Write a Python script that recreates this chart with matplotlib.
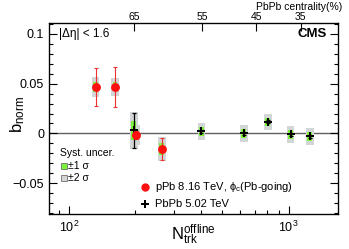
import matplotlib
matplotlib.use("Agg")
import matplotlib.pyplot as plt
import numpy as np

plt.rcParams['font.family'] = ['Liberation Sans', 'DejaVu Sans']
plt.rcParams['mathtext.fontset'] = 'custom'
plt.rcParams['mathtext.rm'] = 'Liberation Sans'
plt.rcParams['mathtext.it'] = 'Liberation Sans:italic'
plt.rcParams['mathtext.bf'] = 'Liberation Sans:bold'

# pPb 8.16 TeV, phi_c (Pb-going)
ppb_n = [132, 162, 202, 264]
ppb_b = [0.047, 0.047, -0.0015, -0.0155]
ppb_stat = [0.019, 0.020, 0.004, 0.011]
ppb_sys = [0.005, 0.0045, 0.005, 0.0062]

# PbPb 5.02 TeV
pbpb_n = [197, 401, 625, 804, 1021, 1251]
pbpb_b = [0.003, 0.002, 0.0, 0.0115, -0.001, -0.003]
pbpb_stat = [0.018, 0.0015, 0.0015, 0.0015, 0.0015, 0.0015]
pbpb_sys = [0.0093, 0.0043, 0.0043, 0.0042, 0.0042, 0.0042]

# top axis: PbPb centrality
cent_n = [198, 403, 714, 1135]
cent_labels = ['65', '55', '45', '35']

GREEN = '#7cf23a'
GRAY = '#d2d6d6'

fig = plt.figure(figsize=(3.49, 2.49), dpi=100)
ax = fig.add_axes([49/349, 1-214/249, 289/349, 191/249])
ax.set_xscale('log')
ax.set_xlim(81, 1680)
ax.set_ylim(-0.081, 0.111)

ax.axhline(0, color='#606060', lw=1.0, zorder=1)

def boxes(xs, ys, s1):
    for x, y, s in zip(xs, ys, s1):
        wg = 10**0.018
        ax.fill_between([x/wg, x*wg], y-2*s, y+2*s, color=GRAY, lw=0, zorder=2)
        wv = 10**0.011
        ax.fill_between([x/wv, x*wv], y-s, y+s, color=GREEN, lw=0, zorder=3)

boxes(ppb_n, ppb_b, ppb_sys)
boxes(pbpb_n, pbpb_b, pbpb_sys)

ax.errorbar(pbpb_n, pbpb_b, yerr=pbpb_stat, fmt='none', ecolor='black',
            elinewidth=0.9, capsize=1.6, capthick=0.9, zorder=4)
ax.plot(pbpb_n, pbpb_b, 'P', color='black', ms=6.0, mew=0, zorder=5)
ax.errorbar(ppb_n, ppb_b, yerr=ppb_stat, fmt='none', ecolor='#f03030',
            elinewidth=0.8, capsize=1.6, capthick=0.8, zorder=6)
ax.plot(ppb_n, ppb_b, 'o', color='#ff1010', ms=6.4, mew=0, zorder=7)

# ticks
ax.set_yticks([-0.05, 0, 0.05, 0.1])
ax.set_yticklabels(['\u22120.05', '0', '0.05', '0.1'])
ax.yaxis.set_minor_locator(matplotlib.ticker.MultipleLocator(0.01))
ax.tick_params(which='both', direction='in', right=True, top=False, labelsize=9)
ax.tick_params(which='major', length=6, width=0.8)
ax.tick_params(which='minor', length=3, width=0.8)
ax.tick_params(axis='x', which='major', pad=4)
ax.set_xticks([100, 1000])
ax.set_xticklabels(['$\\mathregular{10^2}$', '$\\mathregular{10^3}$'])
for s in ax.spines.values():
    s.set_linewidth(0.9)

axt = ax.twiny()
axt.set_xscale('log')
axt.set_xlim(ax.get_xlim())
axt.set_xticks(cent_n)
axt.set_xticklabels(cent_labels)
axt.xaxis.set_minor_locator(matplotlib.ticker.NullLocator())
axt.tick_params(direction='in', length=6, width=0.8, labelsize=7.5, pad=0.5)
fig.text(342/349, 1-7/249, 'PbPb centrality(%)', ha='right', va='center', fontsize=7.5)

ax.set_xlabel('$\\mathrm{N}_{\\mathrm{trk}}^{\\mathrm{offline}}$', fontsize=12)
ax.xaxis.set_label_coords(0.5, -0.11)
ax.xaxis.label.set_va('center')
ax.set_ylabel('$\\mathrm{b}_{\\mathrm{norm}}$', fontsize=12)
ax.yaxis.set_label_coords(-0.11, 0.52)
ax.yaxis.label.set_va('center')

ax.text(0.035, 0.945, '|\u0394\u03b7| < 1.6', transform=ax.transAxes,
        ha='left', va='center', fontsize=8.5)
ax.text(0.962, 0.945, 'CMS', transform=ax.transAxes, ha='right', va='center',
        fontsize=9.5, fontweight='bold')

# syst legend
ax.text(0.038, 0.319, 'Syst. uncer.', transform=ax.transAxes, ha='left', va='center', fontsize=7.5)
ax.plot([0.052], [0.253], 's', transform=ax.transAxes, ms=4.5, mfc=GREEN, mec='#707070', mew=0.6, clip_on=False)
ax.text(0.066, 0.253, '\u00b11 \u03c3', transform=ax.transAxes, ha='left', va='center', fontsize=7.5)
ax.plot([0.052], [0.19], 's', transform=ax.transAxes, ms=4.5, mfc=GRAY, mec='#707070', mew=0.6, clip_on=False)
ax.text(0.066, 0.19, '\u00b12 \u03c3', transform=ax.transAxes, ha='left', va='center', fontsize=7.5)

# series legend
ax.plot([0.332], [0.14], 'o', transform=ax.transAxes, color='#ff1010', ms=6, mew=0, clip_on=False)
ax.text(0.367, 0.14, 'pPb 8.16 TeV, $\\mathrm{\\phi_{c}}$(Pb-going)', transform=ax.transAxes,
        ha='left', va='center', fontsize=8)
ax.plot([0.332], [0.054], 'P', transform=ax.transAxes, color='black', ms=6, mew=0, clip_on=False)
ax.text(0.367, 0.054, 'PbPb 5.02 TeV', transform=ax.transAxes, ha='left', va='center', fontsize=8)

fig.savefig('out.png', dpi=100)
